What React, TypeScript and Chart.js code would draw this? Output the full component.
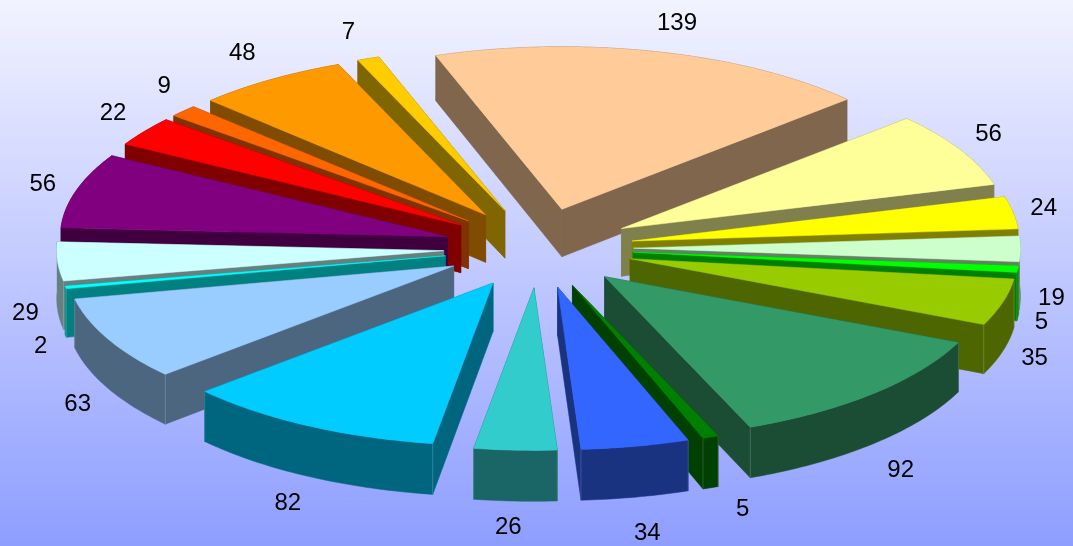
import React, { useEffect, useRef } from "react";
import { Chart, registerables } from "chart.js";

Chart.register(...registerables);

const sliceValues = [139, 56, 24, 19, 5, 35, 92, 5, 34, 26, 82, 63, 2, 29, 56, 22, 9, 48, 7];
const sliceColors = [
  "#FFCC99", "#FFFF99", "#FFFF00", "#CCFFCC", "#00FF00", "#99CC00", "#339966", "#008000", "#3366FF", "#33CCCC",
  "#00CCFF", "#99CCFF", "#00FFFF", "#CCFFFF", "#800080", "#FF0000", "#FF6600", "#FF9900", "#FFCC00",
];
// Fine adjustment of each value label from its radial anchor, so crowded labels stay apart.
const labelShift = [
  [17, 3], [-9, 4], [-16, 5], [-18, 53], [-26, 6], [-18, 4], [-14, 9], [6, -3], [-7, 9], [-14, -2],
  [-5, 0], [9, 0], [21, 1], [16, -2], [16, -1], [14, -3], [23, -7], [7, -3], [6, 1],
];

const ROTATION = -19;
const LABEL_ANGLE_TRIM = (1 * Math.PI) / 180; // labels sit just ahead of their slice's centre line
const TILT = 0.42; // vertical squash of the pie's ground plane
const LABEL_TILT = 0.44;
const DEPTH = 48; // extrusion height of the slices
const DEPTH_FALLOFF = 8000; // walls grow slightly toward the viewer
const EXPLODE = 95;
const RADIUS = 387;
const LABEL_RADIUS = 531;

function shade(hex: string, f: number) {
  const n = parseInt(hex.slice(1), 16);
  const c = [(n >> 16) & 255, (n >> 8) & 255, n & 255].map((v) => Math.round(v * f));
  return `rgb(${c[0]},${c[1]},${c[2]})`;
}

const pie3d = {
  id: "pie3d",
  beforeDraw(chart: any) {
    const { ctx, width, height } = chart;
    const g = ctx.createLinearGradient(0, 0, 0, height);
    g.addColorStop(0, "#F2F3FF");
    g.addColorStop(1, "#8E9EFF");
    ctx.fillStyle = g;
    ctx.fillRect(0, 0, width, height);
  },
  beforeDatasetsDraw(chart: any) {
    const { ctx } = chart;
    const arcs: any[] = chart.getDatasetMeta(0).data;

    const order = arcs
      .map((arc, i) => ({ arc, i, mid: (arc.startAngle + arc.endAngle) / 2 }))
      .sort((a, b) => Math.sin(a.mid) - Math.sin(b.mid));

    for (const { arc, mid } of order) {
      const off = arc.options.offset;
      const ox = Math.cos(mid) * off;
      const oz = Math.sin(mid) * off;
      const project = (gx: number, gz: number, h: number) => [
        arc.x + gx,
        arc.y + gz * TILT + h * (1 + gz / DEPTH_FALLOFF),
      ];
      const rim = (a: number, h: number) =>
        project(ox + Math.cos(a) * arc.outerRadius, oz + Math.sin(a) * arc.outerRadius, h);
      const tip = (h: number) => project(ox, oz, h);

      const base = arc.options.backgroundColor;
      const dark = shade(base, 0.5);
      const poly = (pts: number[][], fill: string) => {
        ctx.beginPath();
        pts.forEach((p, k) => (k ? ctx.lineTo(p[0], p[1]) : ctx.moveTo(p[0], p[1])));
        ctx.closePath();
        ctx.fillStyle = fill;
        ctx.strokeStyle = fill;
        ctx.lineWidth = 0.5;
        ctx.fill();
        ctx.stroke();
      };

      const steps = Math.max(2, Math.ceil((arc.endAngle - arc.startAngle) * 60));
      const angles: number[] = [];
      for (let k = 0; k <= steps; k++) angles.push(arc.startAngle + ((arc.endAngle - arc.startAngle) * k) / steps);

      // radial cut faces
      for (const a of [arc.startAngle, arc.endAngle]) {
        poly([tip(0), rim(a, 0), rim(a, DEPTH), tip(DEPTH)], dark);
      }
      // outer curved wall
      poly([...angles.map((a) => rim(a, 0)), ...angles.slice().reverse().map((a) => rim(a, DEPTH))], dark);
      // faint seam where a cut face meets the wall on the near side
      ctx.strokeStyle = "rgba(255,255,255,0.16)";
      ctx.lineWidth = 1;
      for (const a of [arc.startAngle, arc.endAngle]) {
        if (Math.sin(a) <= 0) continue;
        const p = rim(a, 0);
        const q = rim(a, DEPTH);
        ctx.beginPath();
        ctx.moveTo(p[0], p[1]);
        ctx.lineTo(q[0], q[1]);
        ctx.stroke();
      }
      // top face
      poly([tip(0), ...angles.map((a) => rim(a, 0))], base);
    }

    // value labels
    ctx.fillStyle = "#000";
    ctx.font = '24px "Liberation Sans"';
    ctx.textAlign = "center";
    ctx.textBaseline = "middle";
    arcs.forEach((arc, i) => {
      const mid = (arc.startAngle + arc.endAngle) / 2 - LABEL_ANGLE_TRIM;
      const drop = Math.sin(mid) > 0.05 ? DEPTH : 0;
      const x = arc.x + Math.cos(mid) * LABEL_RADIUS + labelShift[i][0];
      const y = arc.y + Math.sin(mid) * LABEL_TILT * LABEL_RADIUS + drop + labelShift[i][1];
      ctx.fillText(String(sliceValues[i]), x, y);
    });
    return false;
  },
};

export default function App() {
  const ref = useRef<HTMLCanvasElement>(null);
  useEffect(() => {
    document.body.style.margin = "0";
    const chart = new Chart(ref.current!, {
      type: "pie",
      data: {
        labels: sliceValues.map(String),
        datasets: [{ data: sliceValues, backgroundColor: sliceColors, offset: EXPLODE, borderWidth: 0 }],
      },
      options: {
        responsive: false,
        animation: false,
        rotation: ROTATION,
        radius: RADIUS,
        layout: { padding: { left: 4, bottom: 50 } },
        events: [],
        plugins: { legend: { display: false }, tooltip: { enabled: false } },
      },
      plugins: [pie3d],
    } as any);
    return () => chart.destroy();
  }, []);
  return <canvas ref={ref} width={1073} height={546} style={{ display: "block" }} />;
}
